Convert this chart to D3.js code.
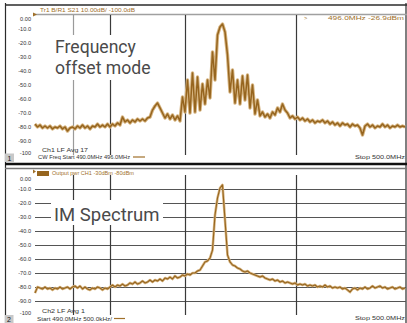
<!DOCTYPE html>
<html><head><meta charset="utf-8">
<script src="https://cdn.jsdelivr.net/npm/d3@7"></script>
<style>body{margin:0;background:#fff}svg{display:block}</style>
</head><body><svg id="c" width="407" height="323"></svg>
<script>
// ---- data ----
const startFreqMHz = 490.0, stopFreqMHz = 500.0;
const gridFreqsMHz = [491.03, 492.03, 494.05, 497.05];
const yTickValues = [0, -10, -20, -30, -40, -50, -60, -70, -80, -90, -100];
const yTickLabelsTop = ["0.00", "-10.0", "-20.0", "-30.0", "-40.0", "-50.0", "-60.0", "-70.0", "-80.0", "-90.0", "-100"];
const yTickLabelsBottom = ["0.00", "-10.0", "-20.0", "-30.0", "-40.0", "-50.0", "-60.0", "-70.0", "-80.0", "-90.0", "-100"];
const offsetModeDb = [
 -77.9,-80.0,-78.6,-80.7,-79.3,-80.7,-79.3,-81.4,-80.0,-80.7,
 -79.3,-81.4,-80.0,-82.9,-80.7,-80.0,-81.4,-79.3,-80.7,-78.6,
 -80.7,-79.3,-81.4,-79.3,-80.0,-77.9,-80.0,-78.6,-80.0,-77.9,
 -80.0,-77.9,-79.3,-77.1,-78.6,-72.9,-76.4,-75.0,-77.1,-75.0,
 -76.4,-74.3,-75.7,-74.3,-75.7,-73.6,-72.9,-67.9,-65.0,-62.9,
 -66.4,-70.0,-73.6,-70.7,-74.3,-71.4,-75.0,-72.1,-75.7,-58.6,
 -69.3,-46.4,-70.0,-41.4,-69.3,-44.3,-67.9,-49.3,-63.6,-46.4,
 -59.3,-26.4,-46.4,-14.3,-8.6,-6.4,-12.1,-28.6,-55.0,-39.3,
 -62.9,-46.4,-63.6,-43.6,-60.7,-42.9,-66.4,-50.0,-70.7,-60.7,
 -72.1,-69.3,-72.9,-70.7,-73.6,-69.3,-71.4,-66.4,-69.3,-63.6,
 -67.9,-70.0,-73.6,-72.1,-74.3,-72.9,-75.0,-73.6,-75.7,-74.3,
 -76.4,-75.0,-77.1,-75.7,-76.4,-75.0,-77.1,-75.7,-77.9,-76.4,
 -78.6,-77.1,-79.3,-77.1,-78.6,-77.9,-80.0,-77.9,-79.3,-78.6,
 -80.7,-85.7,-79.3,-77.9,-80.0,-78.6,-80.7,-79.3,-80.0,-77.9,
 -80.0,-78.6,-80.7,-79.3,-80.0,-78.6,-80.0,-79.3,-80.0
];
const imSpectrumDb = [
 -84.3,-80.0,-80.7,-81.4,-80.0,-81.4,-80.7,-82.1,-80.7,-81.4,
 -80.0,-81.4,-80.7,-80.0,-81.4,-80.0,-79.3,-80.7,-79.3,-81.4,
 -80.0,-81.4,-82.1,-80.7,-81.4,-80.0,-80.7,-82.1,-80.7,-81.4,
 -80.0,-78.6,-80.0,-78.6,-79.3,-77.9,-79.3,-78.6,-77.1,-77.9,
 -76.4,-77.9,-77.1,-75.7,-77.1,-76.4,-75.0,-76.4,-75.0,-75.7,
 -74.3,-75.7,-73.6,-74.3,-72.9,-74.3,-72.1,-73.6,-72.9,-71.4,
 -72.1,-70.7,-71.4,-70.0,-70.0,-68.6,-67.9,-65.0,-62.1,-61.4,
 -59.3,-53.6,-28.6,-16.4,-9.3,-7.1,-32.1,-57.1,-62.1,-64.3,
 -65.0,-66.4,-67.1,-68.6,-69.3,-68.6,-70.0,-70.7,-71.4,-72.1,
 -72.9,-72.1,-73.6,-74.3,-75.0,-74.3,-75.7,-75.0,-76.4,-75.7,
 -77.1,-76.4,-77.1,-77.9,-77.1,-78.6,-77.9,-78.6,-77.9,-79.3,
 -78.6,-79.3,-78.6,-80.0,-79.3,-80.0,-78.6,-80.0,-79.3,-80.7,
 -80.0,-80.7,-80.0,-81.4,-80.7,-82.1,-83.6,-81.4,-80.7,-82.1,
 -80.7,-81.4,-80.0,-81.4,-80.7,-79.3,-80.7,-80.0,-79.3,-80.7,
 -80.0,-81.4,-80.7,-80.0,-81.4,-80.7,-80.0,-81.4,-80.7
];

// ---- chart ----
const svg = d3.select("#c");
const W = 407, H = 323;
const dark = "#2b2b2b", brown = "#96651f", tan = "#d6b480", textBrown = "#a0702a";
const freqOf = (i, n) => startFreqMHz + i * (stopFreqMHz - startFreqMHz) / (n - 1);

const x = d3.scaleLinear().domain([startFreqMHz, stopFreqMHz]).range([35, 405]);
const yTop = d3.scaleLinear().domain([0, -100]).range([15, 155]);
const yBot = d3.scaleLinear().domain([0, -100]).range([175, 315]);

// frame
svg.append("line").attr("x1", 5.5).attr("x2", 5.5).attr("y1", 3).attr("y2", H).attr("stroke", dark).attr("stroke-width", 1.2);
svg.append("line").attr("x1", 406).attr("x2", 406).attr("y1", 3).attr("y2", H).attr("stroke", dark).attr("stroke-width", 1.2);
svg.append("line").attr("x1", 5).attr("x2", 407).attr("y1", 5).attr("y2", 5).attr("stroke", dark).attr("stroke-width", 1.5);
svg.append("line").attr("x1", 33).attr("x2", 407).attr("y1", 14.5).attr("y2", 14.5).attr("stroke", "#a0a0a0").attr("stroke-width", 1.6);
// separator
svg.append("line").attr("x1", 5).attr("x2", 407).attr("y1", 164).attr("y2", 164).attr("stroke", "#111").attr("stroke-width", 2.6);
svg.append("line").attr("x1", 5).attr("x2", 407).attr("y1", 168.5).attr("y2", 168.5).attr("stroke", "#777").attr("stroke-width", 1.6);

function panel(yScale, labels, opts) {
  const g = svg.append("g");
  if (opts.hgrid) {
    g.selectAll("line.h").data(yTickValues.slice(1, -1)).enter().append("line")
      .attr("x1", 35).attr("x2", 406)
      .attr("y1", d => Math.round(yScale(d)) + 0.5).attr("y2", d => Math.round(yScale(d)) + 0.5)
      .attr("stroke", "#555").attr("stroke-width", 1);
  }
  g.selectAll("line.v").data(gridFreqsMHz).enter().append("line")
    .attr("x1", d => Math.round(x(d)) + 0.5).attr("x2", d => Math.round(x(d)) + 0.5)
    .attr("y1", yScale(0)).attr("y2", yScale(-100))
    .attr("stroke", (d, i) => (opts.grayFirst && i === 0) ? "#9a9a9a" : "#3a3a3a").attr("stroke-width", 1.2);
  const ax = d3.axisLeft(yScale).tickValues(yTickValues).tickSize(0).tickFormat((d, i) => labels[i]);
  const axG = g.append("g").attr("transform", "translate(31,0)").call(ax);
  axG.select(".domain").remove();
  axG.selectAll("text").attr("font-family", "Liberation Sans, Arial, sans-serif").attr("font-size", 5.6).attr("fill", "#333").attr("x", 0)
    .attr("dy", (d, i) => i === 0 ? "0.9em" : (i === 10 ? "-0.1em" : "0.32em"));
}

panel(yTop, yTickLabelsTop, { hgrid: false, grayFirst: true });
panel(yBot, yTickLabelsBottom, { hgrid: true, grayFirst: false });

// annotations with white background
function note(lines, x0, y0, w, h, baseY, lh, fs) {
  svg.append("rect").attr("x", x0).attr("y", y0).attr("width", w).attr("height", h).attr("fill", "#fff");
  lines.forEach((s, i) => svg.append("text").attr("x", x0 + 3).attr("y", baseY + i * lh)
    .attr("font-family", "Roboto, 'Open Sans', sans-serif").attr("font-size", fs).attr("fill", "#4a4a4a").text(s));
}
note(["Frequency", "offset mode"], 52, 35, 106, 45, 52.5, 21, 17.6);
note(["IM Spectrum"], 51, 200, 112, 25, 221, 0, 18.5);

// traces
const lineTop = d3.line().x((d, i) => x(freqOf(i, offsetModeDb.length))).y(d => yTop(d));
const lineBot = d3.line().x((d, i) => x(freqOf(i, imSpectrumDb.length))).y(d => yBot(d));
svg.append("path").attr("d", lineTop(offsetModeDb)).attr("fill", "none").attr("stroke", tan).attr("stroke-width", 3.4).attr("stroke-linejoin", "round");
svg.append("path").attr("d", lineTop(offsetModeDb)).attr("fill", "none").attr("stroke", brown).attr("stroke-width", 1.5).attr("stroke-linejoin", "round");
svg.append("path").attr("d", lineBot(imSpectrumDb)).attr("fill", "none").attr("stroke", tan).attr("stroke-width", 2.6).attr("stroke-linejoin", "round");
svg.append("path").attr("d", lineBot(imSpectrumDb)).attr("fill", "none").attr("stroke", brown).attr("stroke-width", 1.1).attr("stroke-linejoin", "round");

// small texts
const small = (t, xx, yy, opt = {}) => svg.append("text").attr("x", xx).attr("y", yy)
  .attr("font-family", "Liberation Sans, Arial, sans-serif").attr("font-size", opt.size || 5.6)
  .attr("fill", opt.fill || "#333").attr("text-anchor", opt.anchor || "start")
  .attr("textLength", opt.len || null).attr("lengthAdjust", "spacingAndGlyphs").text(t);

svg.append("path").attr("d", "M33,12.5 L37,14.5 L33,16.5 Z").attr("fill", textBrown);
small("Tr1  B/R1  S21  10.00dB/  -100.0dB", 40, 11.5, { fill: textBrown, len: 95 });
small(">", 304, 20, { fill: textBrown });
small("496.0MHz  -26.9dBm", 328, 20, { fill: textBrown, len: 76 });

// panel 1 footer
svg.append("rect").attr("x", 5).attr("y", 153.5).attr("width", 9).attr("height", 8.5).attr("fill", "#c8c8c8");
small("1", 7.5, 160.5, { size: 7, fill: "#111" });
small("Ch1  LF  Avg  17", 42, 151.5, { len: 46 });
small("CW Freq  Start 490.0MHz  496.0MHz", 38, 159, { len: 92 });
svg.append("line").attr("x1", 133).attr("x2", 145).attr("y1", 157).attr("y2", 157).attr("stroke", textBrown).attr("stroke-width", 1.2);
small("Stop  500.0MHz", 405, 159, { anchor: "end", len: 50 });

// panel 2 legend
svg.append("rect").attr("x", 37).attr("y", 171).attr("width", 12).attr("height", 5).attr("fill", brown);
svg.append("path").attr("d", "M33,169.5 L36,171.5 L33,173.5 Z").attr("fill", textBrown);
small("Output pwr CH1  -30dBm  -80dBm", 52, 175, { fill: textBrown, len: 82 });

// panel 2 footer
svg.append("rect").attr("x", 5).attr("y", 315).attr("width", 8.5).attr("height", 8).attr("fill", "#c8c8c8");
small("2", 7, 322, { size: 7, fill: "#111" });
small("Ch2  LF  Avg  1", 42, 313, { len: 43 });
small("Start 490.0MHz  500.0kHz/", 37, 320.5, { len: 75 });
svg.append("line").attr("x1", 114).attr("x2", 125).attr("y1", 318.5).attr("y2", 318.5).attr("stroke", textBrown).attr("stroke-width", 1.2);
small("Stop  500.0MHz", 405, 320, { anchor: "end", len: 50 });
</script>
</body></html>
